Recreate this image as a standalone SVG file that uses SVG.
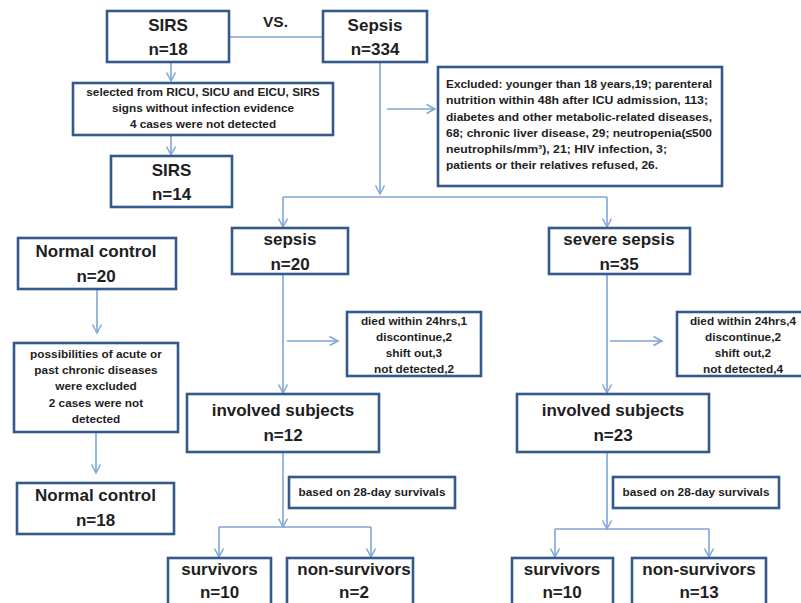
<svg xmlns="http://www.w3.org/2000/svg" width="801" height="603" viewBox="0 0 801 603">
<style>
.box{fill:#fff;stroke:#34598C;stroke-width:2.6}
.big{font-family:"Liberation Sans",Arial,sans-serif;font-weight:bold;font-size:17px;fill:#1e1e1e;text-anchor:middle}
.sm{font-family:"Liberation Sans",Arial,sans-serif;font-weight:bold;font-size:11.8px;fill:#1e1e1e;text-anchor:middle}
.ex{font-family:"Liberation Sans",Arial,sans-serif;font-weight:bold;font-size:11.6px;fill:#1e1e1e}
.c{fill:none;stroke:#7FA6D6;stroke-width:1.6}
.a{marker-end:url(#arr)}
</style>
<defs>
<marker id="arr" markerUnits="userSpaceOnUse" markerWidth="12" markerHeight="12" viewBox="-1 -6 11 12" refX="8.5" refY="0" orient="auto">
<path d="M0,-4.5 L8.5,0 L0,4.5" fill="none" stroke="#7FA6D6" stroke-width="1.5"/>
</marker>
</defs>
<g id="connectors">
<line class="c" x1="229" y1="37" x2="323" y2="37"/>
<line class="c a" x1="171" y1="62" x2="171" y2="81"/>
<line class="c a" x1="171" y1="135" x2="171" y2="155"/>
<line class="c a" x1="380" y1="62" x2="380" y2="194"/>
<line class="c a" x1="387" y1="109" x2="435" y2="109"/>
<line class="c" x1="283" y1="197" x2="607" y2="197"/>
<line class="c a" x1="283" y1="197" x2="283" y2="227"/>
<line class="c a" x1="607" y1="197" x2="607" y2="227"/>
<line class="c a" x1="97" y1="289" x2="97" y2="333"/>
<line class="c a" x1="96" y1="432" x2="96" y2="473"/>
<line class="c a" x1="283" y1="274" x2="283" y2="393"/>
<line class="c a" x1="287" y1="341" x2="338" y2="341"/>
<line class="c a" x1="607" y1="274" x2="607" y2="393"/>
<line class="c a" x1="610" y1="341" x2="662" y2="341"/>
<line class="c a" x1="283" y1="452" x2="283" y2="527"/>
<line class="c" x1="219" y1="527" x2="371" y2="527"/>
<line class="c a" x1="219" y1="527" x2="219" y2="557"/>
<line class="c a" x1="371" y1="527" x2="371" y2="557"/>
<line class="c a" x1="607" y1="452" x2="607" y2="529"/>
<line class="c" x1="555" y1="529" x2="709" y2="529"/>
<line class="c a" x1="555" y1="529" x2="555" y2="557"/>
<line class="c a" x1="709" y1="529" x2="709" y2="557"/>
</g>
<text x="263" y="27" font-family="Liberation Sans, Arial, sans-serif" font-weight="bold" font-size="15.5" fill="#1e1e1e">VS.</text>
<g id="sirs18">
<rect class="box" x="107" y="11" width="122" height="51"/>
<text class="big" x="168" y="31">SIRS</text>
<text class="big" x="168" y="55">n=18</text>
</g>
<g id="sepsis334">
<rect class="box" x="323" y="11" width="104" height="51"/>
<text class="big" x="375" y="31">Sepsis</text>
<text class="big" x="375" y="55">n=334</text>
</g>
<g id="selected">
<rect class="box" x="73" y="83" width="260" height="52"/>
<text class="sm" x="203" y="96">selected from RICU, SICU and EICU, SIRS</text>
<text class="sm" x="203" y="112">signs without infection evidence</text>
<text class="sm" x="203" y="128">4 cases were not detected</text>
</g>
<g id="sirs14">
<rect class="box" x="111" y="156" width="121" height="51"/>
<text class="big" x="171.5" y="176">SIRS</text>
<text class="big" x="171.5" y="200">n=14</text>
</g>
<g id="excluded">
<rect class="box" x="438" y="67" width="284" height="119"/>
<text class="ex" x="446" y="88" textLength="266" lengthAdjust="spacingAndGlyphs">Excluded: younger than 18 years,19; parenteral</text>
<text class="ex" x="446" y="104" textLength="262" lengthAdjust="spacingAndGlyphs">nutrition within 48h after ICU admission, 113;</text>
<text class="ex" x="446" y="120.5" textLength="266" lengthAdjust="spacingAndGlyphs">diabetes and other metabolic-related diseases,</text>
<text class="ex" x="446" y="137" textLength="266" lengthAdjust="spacingAndGlyphs">68; chronic liver disease, 29; neutropenia(≤500</text>
<text class="ex" x="446" y="153" textLength="221" lengthAdjust="spacingAndGlyphs">neutrophils/mm³), 21; HIV infection, 3;</text>
<text class="ex" x="446" y="169" textLength="212" lengthAdjust="spacingAndGlyphs">patients or their relatives refused, 26.</text>
</g>
<g id="normal20">
<rect class="box" x="18" y="238" width="158" height="51"/>
<text class="big" x="96" y="257">Normal control</text>
<text class="big" x="96" y="282">n=20</text>
</g>
<g id="possibilities">
<rect class="box" x="14" y="343" width="164" height="89"/>
<text class="sm" x="96" y="358">possibilities of acute or</text>
<text class="sm" x="96" y="374">past chronic diseases</text>
<text class="sm" x="96" y="390">were excluded</text>
<text class="sm" x="96" y="407">2 cases were not</text>
<text class="sm" x="96" y="423">detected</text>
</g>
<g id="normal18">
<rect class="box" x="17" y="483" width="157" height="51"/>
<text class="big" x="95.5" y="501">Normal control</text>
<text class="big" x="95.5" y="526">n=18</text>
</g>
<g id="sepsis20">
<rect class="box" x="232" y="228" width="116" height="46"/>
<text class="big" x="290" y="245">sepsis</text>
<text class="big" x="290" y="270">n=20</text>
</g>
<g id="severe35">
<rect class="box" x="549" y="228" width="141" height="46"/>
<text class="big" x="619" y="245">severe sepsis</text>
<text class="big" x="619" y="270">n=35</text>
</g>
<g id="died1">
<rect class="box" x="347" y="312" width="134" height="64"/>
<text class="sm" x="414" y="325">died within 24hrs,1</text>
<text class="sm" x="414" y="341">discontinue,2</text>
<text class="sm" x="414" y="357">shift out,3</text>
<text class="sm" x="414" y="373">not detected,2</text>
</g>
<g id="died2">
<rect class="box" x="677" y="312" width="134" height="64"/>
<text class="sm" x="743" y="325">died within 24hrs,4</text>
<text class="sm" x="743" y="341">discontinue,2</text>
<text class="sm" x="743" y="357">shift out,2</text>
<text class="sm" x="743" y="373">not detected,4</text>
</g>
<g id="involved12">
<rect class="box" x="187" y="394" width="192" height="58"/>
<text class="big" x="283" y="416">involved subjects</text>
<text class="big" x="283" y="441">n=12</text>
</g>
<g id="involved23">
<rect class="box" x="517" y="394" width="192" height="58"/>
<text class="big" x="613" y="416">involved subjects</text>
<text class="big" x="613" y="441">n=23</text>
</g>
<g id="based1">
<rect class="box" x="289" y="477" width="166" height="31"/>
<text class="sm" x="372" y="496">based on 28-day survivals</text>
</g>
<g id="based2">
<rect class="box" x="613" y="477" width="166" height="31"/>
<text class="sm" x="696" y="496">based on 28-day survivals</text>
</g>
<g id="surv10a">
<rect class="box" x="168" y="558" width="103" height="60"/>
<text class="big" x="219.5" y="575">survivors</text>
<text class="big" x="219.5" y="598">n=10</text>
</g>
<g id="nonsurv2">
<rect class="box" x="287" y="558" width="126" height="60"/>
<text class="big" x="354" y="575">non-survivors</text>
<text class="big" x="354" y="598">n=2</text>
</g>
<g id="surv10b">
<rect class="box" x="512" y="558" width="101" height="60"/>
<text class="big" x="562" y="575">survivors</text>
<text class="big" x="562" y="598">n=10</text>
</g>
<g id="nonsurv13">
<rect class="box" x="632" y="558" width="134" height="60"/>
<text class="big" x="699" y="575">non-survivors</text>
<text class="big" x="699" y="598">n=13</text>
</g>
</svg>
